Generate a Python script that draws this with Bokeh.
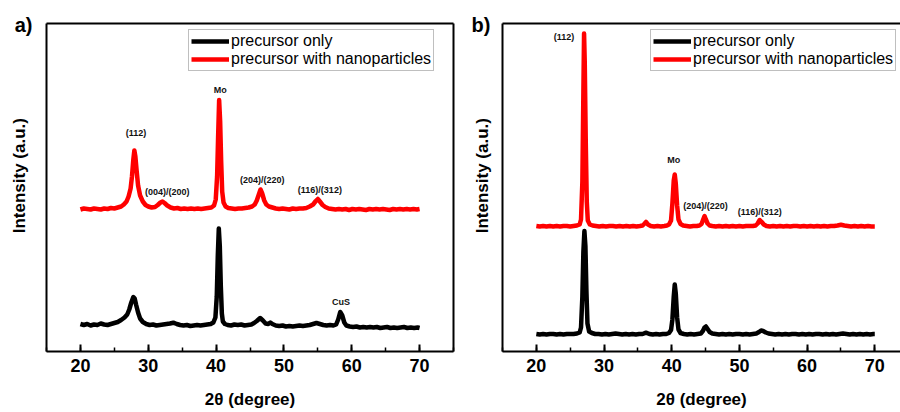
from bokeh.plotting import figure
from bokeh.layouts import row
from bokeh.models import Range1d, LinearAxis, FixedTicker, SingleIntervalTicker, Legend, CustomJSTickFormatter
from bokeh.core.properties import value
from bokeh.embed import file_html
from bokeh.resources import INLINE

# ---------------- data ----------------
# Panel a) precursor only
a_pre_x = [20.0, 20.5, 21.0, 21.5, 22.0, 22.5, 23.0, 23.5, 24.0, 24.5, 25.0, 25.5, 26.0, 26.5, 26.9, 27.2,
           27.5, 27.8, 28.0, 28.2, 28.5, 28.8, 29.2, 29.7, 30.2, 30.7, 31.2, 31.7, 32.2, 32.7, 33.2, 33.7,
           34.2, 34.7, 35.2, 35.7, 36.2, 36.7, 37.2, 37.7, 38.2, 38.7, 39.2, 39.6, 39.9, 40.1, 40.25, 40.4,
           40.55, 40.7, 40.85, 41.0, 41.3, 41.7, 42.2, 42.7, 43.2, 43.7, 44.2, 44.7, 45.2, 45.6, 46.0, 46.5,
           46.9, 47.3, 47.7, 48.0, 48.3, 48.8, 49.3, 49.8, 50.3, 50.8, 51.3, 51.8, 52.3, 52.8, 53.3, 53.8,
           54.3, 54.8, 55.3, 55.8, 56.3, 56.8, 57.3, 57.7, 58.0, 58.3, 58.6, 58.9, 59.2, 59.7, 60.2, 60.7,
           61.2, 61.7, 62.2, 62.7, 63.2, 63.7, 64.2, 64.7, 65.2, 65.7, 66.2, 66.7, 67.2, 67.7, 68.2, 68.7,
           69.2, 69.7, 70.0]
a_pre_y = [27.5, 26.5, 27.5, 26.0, 27.0, 26.5, 28.0, 27.0, 26.5, 27.5, 28.5, 29.5, 31.5, 34.0, 37.0, 42.0,
           49.0, 54.5, 53.0, 47.0, 39.0, 33.0, 29.5, 27.5, 26.5, 27.0, 26.0, 26.5, 27.0, 27.5, 28.0, 28.8,
           27.5, 26.5, 26.0, 26.5, 25.5, 26.0, 26.5, 26.0, 26.5, 27.0, 27.5, 29.0, 34.0, 55.0, 95.0, 123.0,
           105.0, 65.0, 38.0, 30.0, 27.5, 26.5, 26.0, 27.0, 26.5, 27.0, 26.0, 26.5, 27.0, 28.5, 30.5, 33.5,
           31.0, 28.0, 27.5, 29.0, 27.5, 26.0, 25.5, 26.0, 25.0, 25.5, 25.0, 25.5, 26.0, 25.5, 26.0, 26.5,
           27.5, 28.5, 27.5, 26.5, 26.0, 26.5, 26.0, 27.0, 32.0, 39.5, 36.0, 29.0, 26.0, 25.0, 24.5, 25.0,
           24.0, 24.5, 24.0, 24.5, 24.0, 24.5, 23.5, 24.0, 24.5, 23.5, 24.0, 23.5, 24.0, 24.5, 23.5, 24.0,
           23.5, 24.0, 23.5]

# Panel a) precursor with nanoparticles
a_np_x = [20.0, 20.5, 21.0, 21.5, 22.0, 22.5, 23.0, 23.5, 24.0, 24.5, 25.0, 25.5, 26.0, 26.4, 26.8, 27.1,
          27.4, 27.6, 27.8, 27.95, 28.1, 28.3, 28.5, 28.8, 29.2, 29.6, 30.0, 30.5, 31.0, 31.4, 31.8, 32.1,
          32.4, 32.8, 33.3, 33.8, 34.3, 34.8, 35.3, 35.8, 36.3, 36.8, 37.3, 37.8, 38.3, 38.8, 39.3, 39.7,
          39.95, 40.15, 40.3, 40.45, 40.6, 40.75, 40.9, 41.1, 41.4, 41.8, 42.3, 42.8, 43.3, 43.8, 44.3, 44.8,
          45.3, 45.7, 46.0, 46.3, 46.55, 46.8, 47.1, 47.4, 47.8, 48.3, 48.8, 49.3, 49.8, 50.3, 50.8, 51.3,
          51.8, 52.3, 52.8, 53.3, 53.8, 54.3, 54.7, 55.0, 55.3, 55.7, 56.1, 56.6, 57.1, 57.6, 58.1, 58.6,
          59.1, 59.6, 60.1, 60.6, 61.1, 61.6, 62.1, 62.6, 63.1, 63.6, 64.1, 64.6, 65.1, 65.6, 66.1, 66.6,
          67.1, 67.6, 68.1, 68.6, 69.1, 69.6, 70.0]
a_np_y = [142.0, 143.0, 142.5, 142.0, 143.0, 142.5, 142.0, 143.0, 142.5, 143.5, 143.0, 144.0, 145.0, 147.0,
          150.0, 155.0, 163.0, 175.0, 192.0, 201.0, 195.0, 180.0, 166.0, 156.0, 150.0, 146.5, 145.0, 144.0,
          144.5, 146.5, 149.0, 150.0, 148.5, 146.0, 144.0, 143.0, 143.5, 142.5, 143.0, 142.5, 143.0, 142.5,
          143.0, 142.5, 143.0, 143.5, 144.0, 146.0, 152.0, 175.0, 215.0, 251.5, 230.0, 190.0, 160.0, 149.0,
          145.0, 143.5, 143.0, 142.5, 143.0, 143.0, 143.5, 144.0, 145.0, 147.0, 151.0, 157.0, 162.0, 158.0,
          151.0, 147.0, 145.0, 144.0, 143.0, 142.5, 143.0, 142.5, 142.0, 143.0, 142.5, 143.0, 143.0, 143.5,
          145.0, 147.0, 150.5, 152.5, 150.0, 146.5, 144.5, 143.0, 142.5, 142.0, 142.5, 142.0, 142.5, 141.5,
          142.5, 142.0, 142.5, 142.0, 141.5, 142.5, 142.0, 142.5, 142.0, 142.5, 142.0, 141.5, 142.5, 142.0,
          142.5, 142.0, 142.5, 142.0, 142.5, 142.0, 142.5]

# Panel b) precursor only
b_pre_x = [20.0, 20.5, 21.0, 21.5, 22.0, 22.5, 23.0, 23.5, 24.0, 24.5, 25.0, 25.5, 26.0, 26.4, 26.6, 26.8,
           26.95, 27.1, 27.25, 27.4, 27.55, 27.8, 28.2, 28.7, 29.2, 29.7, 30.2, 30.7, 31.2, 31.7, 32.2, 32.7,
           33.2, 33.7, 34.2, 34.7, 35.2, 35.7, 36.2, 36.7, 37.2, 37.7, 38.2, 38.7, 39.2, 39.6, 39.9, 40.1,
           40.3, 40.45, 40.6, 40.8, 41.0, 41.3, 41.8, 42.3, 42.8, 43.3, 43.8, 44.3, 44.6, 44.85, 45.05, 45.3,
           45.6, 46.0, 46.5, 47.0, 47.5, 48.0, 48.5, 49.0, 49.5, 50.0, 50.5, 51.0, 51.5, 52.0, 52.5, 52.9,
           53.2, 53.5, 53.9, 54.3, 54.8, 55.3, 55.8, 56.3, 56.8, 57.3, 57.8, 58.3, 58.8, 59.3, 59.8, 60.3,
           60.8, 61.3, 61.8, 62.3, 62.8, 63.3, 63.8, 64.3, 64.8, 65.3, 65.8, 66.3, 66.8, 67.3, 67.8, 68.3,
           68.8, 69.3, 69.8, 70.0]
b_pre_y = [17.5, 17.0, 17.5, 17.0, 17.5, 17.5, 17.0, 17.5, 17.0, 17.5, 17.5, 17.5, 18.0, 19.0, 24.0, 55.0,
           100.0, 120.5, 105.0, 60.0, 28.0, 20.0, 18.5, 17.5, 17.5, 17.0, 17.5, 17.0, 17.5, 18.0, 17.5, 17.0,
           17.5, 17.0, 17.5, 17.0, 17.5, 17.5, 18.8, 17.5, 17.0, 17.5, 17.0, 17.5, 17.5, 18.5, 21.5, 32.0,
           55.0, 67.0, 58.0, 34.0, 22.0, 18.5, 17.5, 17.0, 17.5, 17.0, 17.5, 18.0, 20.5, 24.0, 25.0, 22.5,
           19.5, 18.0, 17.5, 17.0, 17.5, 17.0, 17.5, 17.0, 17.5, 17.5, 17.0, 17.5, 17.0, 17.5, 18.0, 19.5,
           21.0, 20.5, 19.0, 18.0, 17.5, 17.0, 17.5, 17.0, 17.5, 17.0, 17.5, 17.5, 17.0, 17.5, 17.0, 17.5,
           17.0, 17.5, 17.5, 17.0, 17.5, 17.0, 17.5, 17.0, 17.5, 18.0, 17.5, 17.0, 17.5, 17.0, 17.5, 17.0,
           17.5, 17.0, 17.5, 17.5]

# Panel b) precursor with nanoparticles
b_np_x = [20.0, 20.5, 21.0, 21.5, 22.0, 22.5, 23.0, 23.5, 24.0, 24.5, 25.0, 25.5, 26.0, 26.4, 26.6, 26.8,
          26.95, 27.05, 27.15, 27.3, 27.45, 27.6, 27.9, 28.3, 28.8, 29.3, 29.8, 30.3, 30.8, 31.3, 31.8, 32.3,
          32.8, 33.3, 33.8, 34.3, 34.8, 35.3, 35.7, 36.0, 36.2, 36.5, 36.9, 37.4, 37.9, 38.4, 38.9, 39.3,
          39.6, 39.9, 40.1, 40.3, 40.45, 40.6, 40.8, 41.0, 41.3, 41.7, 42.2, 42.7, 43.2, 43.7, 44.1, 44.4,
          44.65, 44.85, 45.05, 45.3, 45.6, 46.0, 46.5, 47.0, 47.5, 48.0, 48.5, 49.0, 49.5, 50.0, 50.5, 51.0,
          51.5, 52.0, 52.4, 52.7, 53.0, 53.3, 53.6, 54.0, 54.5, 55.0, 55.5, 56.0, 56.5, 57.0, 57.5, 58.0,
          58.5, 59.0, 59.5, 60.0, 60.5, 61.0, 61.5, 62.0, 62.5, 63.0, 63.5, 64.0, 64.5, 65.0, 65.5, 66.0,
          66.5, 67.0, 67.5, 68.0, 68.5, 69.0, 69.5, 70.0]
b_np_y = [125.5, 125.0, 125.5, 125.0, 125.5, 125.0, 125.5, 125.0, 125.5, 125.5, 125.0, 125.5, 126.0, 127.0,
          132.0, 170.0, 260.0, 318.0, 290.0, 210.0, 150.0, 131.0, 127.0, 126.0, 125.5, 125.0, 125.5, 125.0,
          125.5, 125.5, 125.0, 125.5, 125.0, 125.5, 125.0, 125.5, 125.0, 125.5, 126.0, 128.0, 129.5, 127.0,
          125.5, 125.0, 125.5, 125.0, 125.5, 126.0, 127.0, 131.0, 148.0, 171.0, 177.0, 168.0, 146.0, 132.0,
          127.5, 126.0, 125.5, 125.0, 125.5, 125.5, 126.0, 127.5, 132.0, 135.5, 132.0, 128.0, 126.0, 125.5,
          125.0, 125.5, 125.0, 125.5, 125.0, 125.5, 125.0, 125.5, 125.0, 125.5, 125.5, 125.5, 126.0, 128.0,
          131.5, 129.5, 127.0, 125.5, 125.0, 125.5, 125.0, 125.5, 125.0, 125.5, 125.0, 125.5, 125.5, 125.0,
          125.5, 125.0, 125.5, 125.0, 125.5, 125.0, 125.5, 125.0, 125.5, 125.5, 126.0, 126.8, 126.0, 125.5,
          125.0, 125.5, 125.0, 125.5, 125.0, 125.5, 125.0, 125.0]

# Peak annotations (text, 2-theta, intensity)
a_peak_text = ["(112)", "(004)/(200)", "Mo", "(204)/(220)", "(116)/(312)", "CuS"]
a_peak_x = [28.2, 32.8, 40.6, 46.8, 55.3, 58.4]
a_peak_y = [219.0, 160.0, 262.0, 172.0, 161.5, 50.0]
b_peak_text = ["(112)", "Mo", "(204)/(220)", "(116)/(312)"]
b_peak_x = [24.1, 40.3, 45.0, 53.0]
b_peak_y = [315.0, 191.5, 146.0, 139.5]

series_names = ["precursor only", "precursor with nanoparticles"]
series_colors = ["#000000", "#ff0000"]
y_title = "Intensity (a.u.)"

FONT = "Liberation Sans"
FIG_H = 412
TAG_Y = 327  # intensity level at which the panel tag sits (top of the frame)


def make_panel(width, x_end, border_left, border_right, with_right, data, peaks, tag,
               tag_standoff, ylab_standoff, leg_x):
    p = figure(width=width, height=FIG_H, output_backend="svg", toolbar_location=None,
               x_range=Range1d(15, x_end), y_range=Range1d(0, 328),
               min_border_left=border_left, min_border_right=border_right,
               min_border_top=23, min_border_bottom=61)
    p.outline_line_color = None
    p.grid.visible = False
    p.background_fill_color = "white"
    p.border_fill_color = "white"

    xa = p.xaxis[0]
    xa.ticker = SingleIntervalTicker(interval=10, num_minor_ticks=2)
    xa.axis_line_width = 2
    xa.axis_line_color = "black"
    xa.major_tick_in = 7
    xa.major_tick_out = 0
    xa.minor_tick_in = 4
    xa.minor_tick_out = 0
    xa.major_tick_line_width = 2
    xa.minor_tick_line_width = 1.5
    xa.major_label_standoff = 7
    xa.major_label_text_font = FONT
    xa.major_label_text_font_style = "bold"
    xa.major_label_text_font_size = "18px"
    xa.major_label_text_color = "black"
    xa.axis_label = "2θ (degree)"
    xa.axis_label_text_font = FONT
    xa.axis_label_text_font_style = "bold"
    xa.axis_label_text_font_size = "17px"
    xa.axis_label_standoff = 15
    xa.axis_label_text_color = "black"

    # left axis: carries the panel tag as its only tick label and the intensity title
    ya = p.yaxis[0]
    ya.ticker = FixedTicker(ticks=[TAG_Y])
    ya.formatter = CustomJSTickFormatter(code="return '%s';" % tag)
    ya.axis_line_width = 2
    ya.axis_line_color = "black"
    ya.major_tick_line_color = None
    ya.major_tick_in = 0
    ya.major_tick_out = 0
    ya.minor_tick_in = 0
    ya.minor_tick_out = 0
    ya.major_label_standoff = tag_standoff
    ya.major_label_text_font = FONT
    ya.major_label_text_font_style = "bold"
    ya.major_label_text_font_size = "20px"
    ya.major_label_text_color = "black"
    ya.axis_label = "\u00a0" * 5 + y_title
    ya.axis_label_text_font = FONT
    ya.axis_label_text_font_style = "bold"
    ya.axis_label_text_font_size = "17px"
    ya.axis_label_text_color = "black"
    ya.axis_label_standoff = ylab_standoff

    top = LinearAxis(ticker=FixedTicker(ticks=[]), axis_line_width=2, axis_line_color="black",
                     major_tick_in=0, major_tick_out=0, minor_tick_in=0, minor_tick_out=0)
    p.add_layout(top, "above")
    if with_right:
        right = LinearAxis(ticker=FixedTicker(ticks=[]), axis_line_width=2, axis_line_color="black",
                           major_tick_in=0, major_tick_out=0, minor_tick_in=0, minor_tick_out=0)
        p.add_layout(right, "right")

    items = []
    for (xs, ys), name, col in zip(data, series_names, series_colors):
        r = p.line(xs, ys, line_color=col, line_width=4.5, line_join="round")
        items.append((name, [r]))

    txt, px, py = peaks
    p.text(x=px, y=py, text=txt, text_align="center", text_baseline="middle",
           text_font=value(FONT), text_font_style="bold", text_font_size="9px", text_color="#111111")

    leg = Legend(items=items, location=(leg_x, 280), padding=2, spacing=0, margin=0,
                 glyph_width=38, glyph_height=18, label_standoff=2, label_height=18,
                 label_text_font=FONT, label_text_font_size="16px", label_text_color="black",
                 border_line_color="#808080", border_line_width=1, background_fill_alpha=1.0)
    p.add_layout(leg)
    return p


pa = make_panel(458, 75, 46, 5, True,
                [(a_pre_x, a_pre_y), (a_np_x, a_np_y)],
                (a_peak_text, a_peak_x, a_peak_y), "a)", 14, -17, 142)
pb = make_panel(442, 73.8, 44, 0, False,
                [(b_pre_x, b_pre_y), (b_np_x, b_np_y)],
                (b_peak_text, b_peak_x, b_peak_y), "b)", 12, -23, 148)

layout = row(pa, pb)
open("out.html", "w").write(file_html(layout, INLINE))
